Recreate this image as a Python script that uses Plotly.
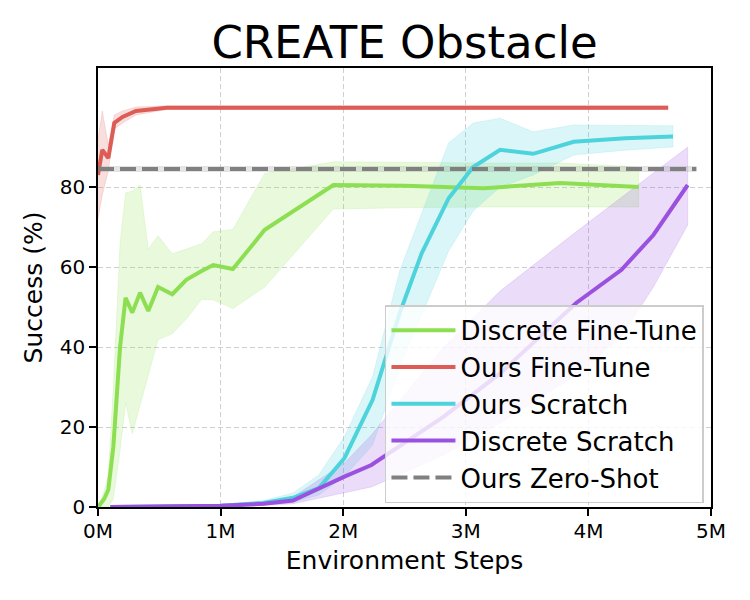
import plotly.graph_objects as go

# ---------------- data (x in millions of environment steps) ----------------
dft_x = [0, 0.05, 0.084, 0.125, 0.18, 0.225, 0.28, 0.343, 0.41, 0.49, 0.606, 0.72, 0.845, 0.94, 1.10, 1.36, 1.92, 2.5, 3.15, 3.77, 4.41]
dft_y = [0, 2, 4.3, 15, 40, 52.3, 48.6, 53.6, 49, 55, 53.2, 56.8, 59, 60.5, 59.5, 69.3, 80.5, 80.3, 79.7, 81, 80]
dft_hi = [0, 4, 8, 30, 66, 78.5, 79, 80.5, 64.5, 67.8, 63.3, 64.5, 65.8, 68.8, 69.4, 83.4, 86.3, 86.2, 86, 86, 85]
dft_lo = [0, 0, 0, 2, 14, 26, 18.4, 25, 33, 41.8, 43.3, 47, 51.9, 51.8, 49.6, 55, 74.5, 74.8, 75, 75, 75]

oft_x = [0, 0.035, 0.084, 0.133, 0.2, 0.31, 0.56, 1.0, 2.0, 3.0, 4.0, 4.65]
oft_y = [83, 89.3, 87.2, 96, 97.5, 99, 99.8, 99.8, 99.8, 99.8, 99.8, 99.8]
oft_hi = [92, 99, 90.5, 98, 99, 100, 100.3, 100.3, 100.3, 100.3, 100.3, 100.3]
oft_lo = [72, 78, 84, 94.5, 96, 98, 99.4, 99.4, 99.4, 99.4, 99.4, 99.4]

osc_x = [0.1, 0.5, 1.0, 1.35, 1.59, 1.8, 2.01, 2.24, 2.46, 2.64, 2.86, 3.06, 3.28, 3.55, 3.88, 4.3, 4.69]
osc_y = [0, 0.1, 0.3, 1.0, 2.3, 4.7, 12.2, 26.8, 48.4, 63.4, 77.2, 85, 89.3, 88.3, 91.3, 92.2, 92.6]
osc_hi = [0.2, 0.3, 0.6, 1.6, 3.5, 8, 17.6, 32.6, 59, 73.4, 91, 96, 97.2, 93.8, 95.5, 95.4, 95.3]
osc_lo = [0, 0, 0.1, 0.5, 1.2, 3, 7.6, 15.5, 35, 48, 64, 74, 80, 83, 88, 89.2, 90]

dsc_x = [0.1, 0.5, 1.0, 1.35, 1.59, 2.01, 2.23, 2.82, 3.28, 3.9, 4.27, 4.53, 4.81]
dsc_y = [0, 0.1, 0.3, 0.8, 1.6, 7.6, 10.5, 22.6, 33.4, 51, 59.3, 68, 80.5]
dsc_hi = [0.2, 0.3, 0.6, 1.3, 2.5, 11, 18, 40, 54, 68.8, 77.5, 83.6, 90]
dsc_lo = [0, 0, 0.1, 0.4, 0.8, 3.5, 5, 13, 21, 33, 42.6, 55, 70.5]

zs_x = [0, 4.88]
zs_y = [84.5, 84.5]
zs_hi = [85.1, 85.1]
zs_lo = [83.9, 83.9]

x_ticks = [0, 1, 2, 3, 4, 5]
x_labels = ["0M", "1M", "2M", "3M", "4M", "5M"]
y_ticks = [0, 20, 40, 60, 80]

series = [
    ("Discrete Fine-Tune", dft_x, dft_y, dft_hi, dft_lo, "#8ddf52", "rgba(141,223,82,0.2)", "solid"),
    ("Ours Fine-Tune", oft_x, oft_y, oft_hi, oft_lo, "#dd5c55", "rgba(221,92,85,0.2)", "solid"),
    ("Ours Scratch", osc_x, osc_y, osc_hi, osc_lo, "#4dd3dc", "rgba(77,211,220,0.2)", "solid"),
    ("Discrete Scratch", dsc_x, dsc_y, dsc_hi, dsc_lo, "#9b51e0", "rgba(155,81,224,0.2)", "solid"),
    ("Ours Zero-Shot", zs_x, zs_y, zs_hi, zs_lo, "#808080", "rgba(128,128,128,0.2)", "16px,6px"),
]

fig = go.Figure()
for name, x, y, hi, lo, col, fcol, dash in series:
    fig.add_trace(go.Scatter(
        x=list(x) + list(x)[::-1], y=list(hi) + list(lo)[::-1],
        fill="toself", fillcolor=fcol, line=dict(width=0.8, color=fcol),
        mode="lines", showlegend=False, hoverinfo="skip"))
for name, x, y, hi, lo, col, fcol, dash in series:
    fig.add_trace(go.Scatter(
        x=x, y=y, mode="lines", name=name,
        line=dict(color=col, width=4, dash=dash)))

axis_common = dict(
    showline=True, linecolor="black", linewidth=1.5, mirror=True,
    ticks="outside", ticklen=7, tickwidth=1.5, tickcolor="black",
    showgrid=True, gridcolor="#cfcfcf", gridwidth=1.2, griddash="5px,3px",
    zeroline=False, tickfont=dict(size=20, color="black"), automargin=False,
)

# the page body adds an 8px offset, so margins are compensated by 8px
fig.update_layout(
    width=750, height=600,
    margin=dict(l=90, r=47, t=60, b=101, autoexpand=False),
    paper_bgcolor="white", plot_bgcolor="white",
    font=dict(family="DejaVu Sans", color="black"),
    title=dict(text="CREATE Obstacle", font=dict(size=45, color="black"),
               x=0.5, xref="paper", xanchor="center",
               y=1 - 34.5 / 600, yref="container", yanchor="middle"),
    xaxis=dict(range=[0, 5], tickvals=x_ticks, ticktext=x_labels, ticklabelstandoff=-2,
               title=dict(text="Environment Steps", font=dict(size=25), standoff=10),
               **axis_common),
    yaxis=dict(range=[0, 109.75], tickvals=y_ticks,
               title=dict(text="Success (%)", font=dict(size=25), standoff=10),
               **axis_common),
    legend=dict(x=0.9885, y=0.4595, xanchor="right", yanchor="top",
                bgcolor="rgba(255,255,255,0.8)", bordercolor="#cccccc", borderwidth=1.5,
                itemwidth=64, font=dict(size=26, color="black")),
)

fig.write_html("out.html")
